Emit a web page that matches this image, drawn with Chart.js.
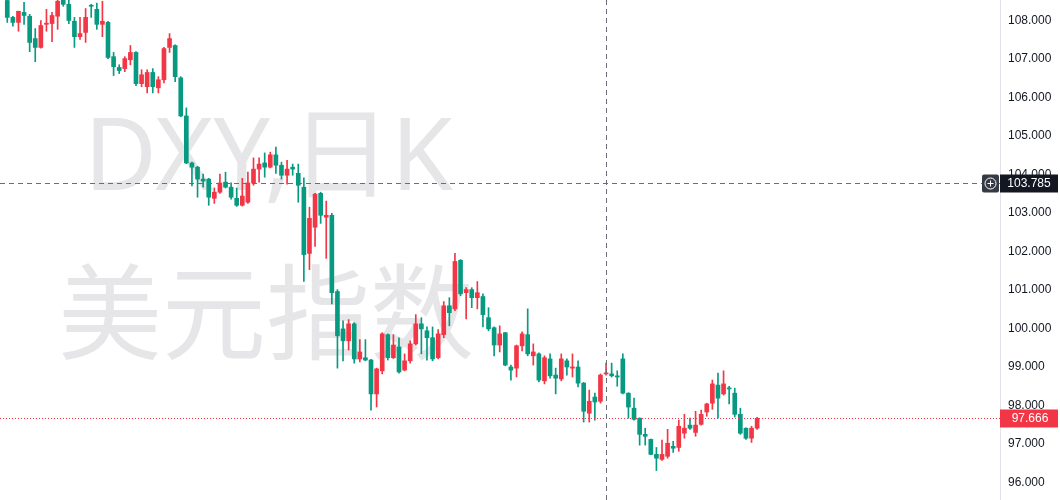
<!DOCTYPE html>
<html>
<head>
<meta charset="utf-8">
<title>DXY 日K</title>
<script src="https://cdn.jsdelivr.net/npm/chart.js@4/dist/chart.umd.min.js"></script>
<style>
  html, body { margin: 0; padding: 0; background: #ffffff; }
  #wrap { width: 1060px; height: 500px; position: relative; }
</style>
</head>
<body>
<div id="wrap"><canvas id="dxyChart"></canvas></div>
<script>
// daily candles, oldest first
const openPrices = [
  108.52, 108.08, 107.95, 108.21, 108.11, 107.53, 107.30, 107.90, 107.92, 108.11,
  108.55, 108.42, 107.98, 107.58, 107.69, 108.39, 108.29, 107.90, 107.95, 107.06,
  106.78, 106.75, 106.98, 107.17, 106.36, 106.28, 106.65, 106.25, 106.46, 107.30,
  107.35, 106.51, 105.52, 104.30, 104.19, 103.88, 103.88, 103.38, 103.54, 103.80,
  103.67, 103.38, 103.20, 103.28, 103.78, 104.14, 104.30, 104.19, 104.51, 104.24,
  103.98, 104.19, 104.03, 103.67, 101.95, 102.63, 103.51, 102.89, 102.94, 100.96,
  99.99, 99.68, 100.12, 99.21, 99.24, 99.18, 98.30, 98.90, 99.84, 99.24,
  99.52, 98.92, 99.16, 99.60, 100.12, 99.94, 99.76, 99.24, 99.84, 100.59,
  100.51, 101.77, 100.93, 101.01, 100.80, 100.83, 100.28, 100.02, 99.57, 99.89,
  99.00, 98.97, 99.55, 99.84, 99.29, 99.34, 98.64, 99.21, 98.79, 98.69,
  99.16, 98.97, 99.00, 98.58, 97.80, 98.22, 98.11, 98.82, 98.82, 98.77,
  99.21, 98.32, 97.93, 97.67, 97.25, 97.12, 96.73, 96.60, 96.68, 96.94,
  96.91, 97.28, 97.49, 97.30, 97.51, 97.83, 98.06, 98.53, 98.30, 98.45,
  98.32, 97.77, 97.41, 97.15, 97.41
];
const highPrices = [
  108.60, 108.11, 108.24, 108.47, 108.16, 107.79, 108.00, 108.29, 108.21, 108.60,
  108.65, 108.60, 108.08, 108.08, 108.31, 108.42, 108.45, 108.50, 107.98, 107.17,
  106.85, 107.06, 107.35, 107.19, 106.72, 106.72, 106.75, 106.54, 107.30, 107.66,
  107.37, 106.54, 105.73, 104.32, 104.21, 104.01, 103.90, 103.65, 104.01, 104.06,
  103.78, 103.65, 103.90, 104.06, 104.43, 104.43, 104.56, 104.58, 104.71, 104.32,
  104.37, 104.27, 104.27, 103.91, 103.15, 103.51, 103.54, 103.31, 102.99, 101.01,
  100.20, 100.23, 100.15, 99.71, 99.71, 99.20, 98.97, 99.89, 99.86, 99.84,
  99.76, 99.34, 99.68, 100.36, 100.28, 100.04, 100.04, 99.97, 100.70, 100.80,
  101.95, 101.79, 101.06, 101.06, 101.22, 100.90, 100.54, 100.04, 100.07, 99.90,
  99.05, 99.57, 99.91, 100.51, 99.60, 99.37, 99.29, 99.34, 98.97, 99.34,
  99.21, 99.34, 99.16, 98.60, 98.40, 98.32, 98.82, 99.10, 99.10, 98.90,
  99.34, 98.33, 98.19, 97.68, 97.41, 97.13, 96.91, 97.10, 97.38, 97.07,
  97.62, 97.77, 97.67, 97.85, 97.88, 98.06, 98.66, 98.84, 98.90, 98.50,
  98.45, 97.93, 97.42, 97.46, 97.69
];
const lowPrices = [
  107.95, 107.85, 107.72, 107.90, 107.19, 106.93, 107.28, 107.72, 107.45, 107.77,
  108.37, 107.92, 107.30, 107.51, 107.43, 108.08, 107.77, 107.58, 107.01, 106.57,
  106.62, 106.67, 106.85, 106.31, 106.28, 106.12, 106.12, 106.12, 106.38, 107.17,
  106.41, 105.50, 104.28, 103.70, 103.41, 103.67, 103.20, 103.25, 103.51, 103.65,
  103.36, 103.17, 103.18, 103.25, 103.72, 103.80, 103.93, 104.17, 104.03, 103.88,
  103.75, 103.98, 103.28, 101.22, 101.53, 102.13, 102.73, 101.82, 100.64, 98.97,
  99.16, 99.44, 99.10, 99.13, 99.16, 97.88, 97.96, 98.82, 99.18, 99.22,
  98.84, 98.90, 99.10, 99.57, 99.34, 99.18, 99.16, 99.21, 99.76, 100.07,
  100.46, 100.85, 100.25, 100.54, 100.51, 100.04, 99.94, 99.29, 99.39, 99.03,
  98.66, 98.74, 99.42, 99.29, 99.05, 98.61, 98.56, 98.71, 98.30, 98.64,
  98.79, 98.74, 98.48, 97.57, 97.57, 97.62, 98.06, 98.79, 98.74, 98.50,
  98.30, 97.67, 97.62, 96.97, 96.97, 96.72, 96.31, 96.57, 96.63, 96.78,
  96.81, 97.15, 97.38, 97.20, 97.49, 97.72, 97.90, 97.67, 98.27, 98.04,
  97.70, 97.25, 97.12, 97.04, 97.38
];
const closePrices = [
  108.08, 107.95, 108.24, 108.13, 107.43, 107.30, 107.87, 107.93, 108.13, 108.50,
  108.42, 108.00, 107.58, 107.66, 108.08, 108.37, 107.90, 107.98, 107.04, 106.80,
  106.70, 107.01, 107.17, 106.36, 106.59, 106.65, 106.28, 106.46, 107.27, 107.53,
  106.54, 105.52, 104.30, 104.19, 103.88, 103.83, 103.41, 103.54, 103.78, 103.67,
  103.41, 103.20, 103.44, 103.78, 104.14, 104.27, 104.19, 104.51, 104.24, 103.98,
  104.14, 104.14, 103.72, 101.92, 102.86, 103.49, 102.94, 102.94, 100.93, 99.81,
  99.68, 100.12, 99.21, 99.39, 99.18, 98.30, 98.95, 99.86, 99.24, 99.57,
  98.87, 99.16, 99.60, 100.12, 99.99, 99.76, 99.21, 99.86, 100.59, 100.41,
  101.74, 100.90, 101.01, 100.80, 100.93, 100.36, 99.99, 99.57, 99.86, 99.05,
  98.92, 99.55, 99.86, 99.34, 99.39, 98.66, 99.24, 98.77, 98.71, 99.21,
  99.00, 99.00, 98.58, 97.85, 98.11, 98.09, 98.79, 98.84, 98.77, 98.74,
  98.32, 97.96, 97.64, 97.25, 97.20, 96.73, 96.63, 96.73, 97.02, 96.89,
  97.46, 97.41, 97.41, 97.49, 97.77, 98.04, 98.56, 98.19, 98.56, 98.43,
  97.77, 97.28, 97.15, 97.41, 97.666
];

const yTicks = [96, 97, 98, 99, 100, 101, 102, 103, 104, 105, 106, 107, 108];
const lastPrice = 97.666;
const crossPrice = 103.785;
const crossIndex = 107;
const titleLine = 'DXY,日K';
const nameLine = '美元指数';

const UP = '#F23645';
const DOWN = '#089981';

const candleColors = closePrices.map((c, i) => (c >= openPrices[i] ? UP : DOWN));

// watermark behind the candles
const watermarkPlugin = {
  id: 'watermark',
  beforeDatasetsDraw(chart) {
    const ctx = chart.ctx;
    ctx.save();
    ctx.fillStyle = '#e6e6e8';
    ctx.textBaseline = 'alphabetic';
    ctx.textAlign = 'left';
    ctx.font = '100px "Noto Sans", "Noto Sans CJK SC", sans-serif';
    ctx.fillText(titleLine, 84, 190);
    ctx.font = '104px "Noto Sans CJK SC", sans-serif';
    ctx.fillText(nameLine, 58, 352);
    ctx.restore();
  }
};

// crosshair, last price line and price labels
const overlayPlugin = {
  id: 'overlay',
  afterDraw(chart) {
    const ctx = chart.ctx;
    const area = chart.chartArea;
    const yScale = chart.scales.y;
    const xScale = chart.scales.x;
    const yLast = Math.round(yScale.getPixelForValue(lastPrice)) + 0.5;
    const yCross = Math.round(yScale.getPixelForValue(crossPrice)) + 0.5;
    const xCross = Math.round(xScale.getPixelForValue(crossIndex)) + 0.5;

    ctx.save();
    ctx.lineWidth = 1;

    // last price dotted line
    ctx.strokeStyle = UP;
    ctx.setLineDash([1, 2]);
    ctx.beginPath();
    ctx.moveTo(area.left, yLast);
    ctx.lineTo(area.right, yLast);
    ctx.stroke();

    // crosshair
    ctx.strokeStyle = '#6a6d78';
    ctx.setLineDash([5, 4]);
    ctx.beginPath();
    ctx.moveTo(area.left, yCross);
    ctx.lineTo(area.right, yCross);
    ctx.moveTo(xCross, area.top);
    ctx.lineTo(xCross, area.bottom);
    ctx.stroke();
    ctx.setLineDash([]);

    ctx.font = '12px "Liberation Sans", Arial, sans-serif';
    ctx.textBaseline = 'middle';
    ctx.textAlign = 'center';

    // last price label
    ctx.fillStyle = UP;
    ctx.fillRect(area.right, yLast - 9, 58, 18);
    ctx.fillStyle = '#ffffff';
    ctx.fillText(lastPrice.toFixed(3), area.right + 30, yLast + 0.5);

    // crosshair price label
    ctx.fillStyle = '#131722';
    ctx.fillRect(area.right, yCross - 9, 58, 18);
    ctx.fillStyle = '#ffffff';
    ctx.fillText(crossPrice.toFixed(3), area.right + 29, yCross + 0.5);

    // plus button left of the label
    ctx.fillStyle = '#363a45';
    ctx.beginPath();
    ctx.roundRect(area.right - 18, yCross - 9, 17, 18, 2);
    ctx.fill();
    ctx.strokeStyle = '#ffffff';
    ctx.beginPath();
    ctx.arc(area.right - 9.5, yCross, 5.5, 0, Math.PI * 2);
    ctx.moveTo(area.right - 12.5, yCross);
    ctx.lineTo(area.right - 6.5, yCross);
    ctx.moveTo(area.right - 9.5, yCross - 3);
    ctx.lineTo(area.right - 9.5, yCross + 3);
    ctx.stroke();

    ctx.restore();
  }
};

document.addEventListener('DOMContentLoaded', () => {
  const ctx = document.getElementById('dxyChart').getContext('2d');

  new Chart(ctx, {
    type: 'bar',
    data: {
      datasets: [
        {
          label: 'body',
          data: openPrices.map((o, i) => ({ x: i, y: [o, closePrices[i]] })),
          backgroundColor: candleColors,
          barThickness: 4,
          minBarLength: 1,
          grouped: false
        },
        {
          label: 'wick',
          data: lowPrices.map((l, i) => ({ x: i, y: [l, highPrices[i]] })),
          backgroundColor: candleColors,
          barThickness: 1,
          grouped: false
        }
      ]
    },
    options: {
      responsive: true,
      maintainAspectRatio: false,
      animation: false,
      layout: { padding: 0 },
      plugins: {
        legend: { display: false },
        tooltip: { enabled: false }
      },
      scales: {
        x: {
          type: 'linear',
          min: -1.3,
          max: 177.4,
          offset: false,
          display: false
        },
        y: {
          position: 'right',
          min: 95.545,
          max: 108.532,
          afterFit: scale => {
            scale.width = 60;
            scale.paddingTop = 0;
            scale.paddingBottom = 0;
          },
          afterBuildTicks: scale => {
            scale.ticks = yTicks.map(v => ({ value: v }));
          },
          ticks: {
            padding: 8,
            color: '#131722',
            font: { size: 12, family: '"Liberation Sans", Arial, sans-serif' },
            callback: v => Number(v).toFixed(3)
          },
          grid: { drawOnChartArea: false, drawTicks: false },
          border: { display: true, color: '#e0e3eb' }
        }
      }
    },
    plugins: [watermarkPlugin, overlayPlugin]
  });
});
</script>
</body>
</html>
